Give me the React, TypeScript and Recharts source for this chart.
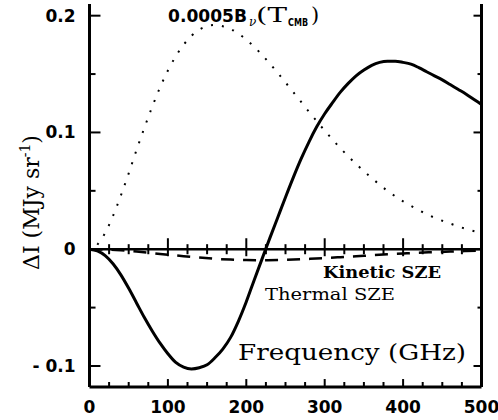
import React from 'react';
import { ComposedChart, Line, XAxis, YAxis, ReferenceLine } from 'recharts';

// thermal SZE (solid)
const THERMAL_FREQ = [
  0, 10, 20, 30, 40, 50, 60, 70, 80, 90, 100, 110, 120, 130, 140, 150, 160, 170, 180, 190, 200,
  210, 220, 230, 240, 250, 260, 270, 280, 290, 300, 310, 320, 330, 340, 350, 360, 370, 380, 390, 400,
  410, 420, 430, 440, 450, 460, 470, 480, 490, 500,
];
const THERMAL = [
  0, -0.0015, -0.0055, -0.0125, -0.022, -0.0335, -0.046, -0.0585, -0.07, -0.0805, -0.0895, -0.097,
  -0.101, -0.1025, -0.1015, -0.099, -0.093, -0.0855, -0.0755, -0.0615, -0.045, -0.0265, -0.0085,
  0.0095, 0.027, 0.0445, 0.0615, 0.0775, 0.092, 0.105, 0.116, 0.1255, 0.1345, 0.142, 0.1485, 0.1535,
  0.1575, 0.16, 0.161, 0.161, 0.16, 0.1585, 0.1555, 0.152, 0.1485, 0.145, 0.141, 0.137, 0.133, 0.1285,
  0.124,
];

// 0.0005 B_nu(T_CMB) (dotted)
const CMB_FREQ = [
  10, 20, 30, 40, 50, 60, 70, 80, 90, 100, 110, 120, 130, 140, 150, 160, 170, 180, 190, 200,
  220, 240, 260, 280, 300, 320, 340, 360, 380, 400, 420, 440, 460, 480, 500,
];
const CMB = [
  0.0038, 0.014, 0.0286, 0.046, 0.065, 0.085, 0.104, 0.122, 0.1386, 0.153, 0.1652, 0.175, 0.1827, 0.188,
  0.191, 0.192, 0.191, 0.1886, 0.1846, 0.1795, 0.1665, 0.151, 0.1345, 0.1177, 0.1016, 0.0865, 0.073,
  0.061, 0.05, 0.041, 0.0335, 0.027, 0.022, 0.0174, 0.0138,
];

// kinetic SZE (dashed)
const KIN_FREQ = [
  0, 20, 40, 60, 80, 100, 120, 140, 160, 180, 200, 220, 240, 260, 280, 300, 320, 340, 360, 380, 400,
  420, 440, 460, 480, 500,
];
const KINETIC = [
  0, -0.0002, -0.0009, -0.002, -0.0033, -0.0047, -0.006, -0.0072, -0.0082, -0.0089, -0.0093, -0.0094,
  -0.0093, -0.0089, -0.0083, -0.0076, -0.0068, -0.006, -0.0052, -0.0044, -0.0037, -0.003, -0.0025,
  -0.002, -0.0016, -0.0013,
];

const X_TICKS = [
  0, 25, 50, 75, 100, 125, 150, 175, 200, 225, 250, 275, 300, 325, 350, 375, 400, 425, 450, 475, 500,
];
const ZERO_TICKS = [25, 50, 75, 100, 125, 150, 175, 200, 225, 250, 275, 300, 325, 350, 375, 400, 425, 450, 475];
const Y_TICKS = [-0.1, -0.05, 0, 0.05, 0.1, 0.15, 0.2];
const Y_LABELS: Record<string, string> = { '-0.1': '- 0.1', '0': '0', '0.1': '0.1', '0.2': '0.2' };

const Y_MIN = -0.118;
const Y_MAX = 0.21;

const thermalRows = THERMAL_FREQ.map((f, i) => ({ f, v: THERMAL[i] }));
const cmbRows = CMB_FREQ.map((f, i) => ({ f, v: CMB[i] }));
const kinRows = KIN_FREQ.map((f, i) => ({ f, v: KINETIC[i] }));

const isMajorY = (v: number) => Math.abs(v * 10 - Math.round(v * 10)) < 1e-6;

// tick marks as short two-point segments in data units
const segs: { f: number; v: number }[][] = [
  ...X_TICKS.map((f) => [
    { f, v: Y_MIN },
    { f, v: Y_MIN + (f % 100 === 0 ? 0.0068 : 0.0043) },
  ]),
  ...ZERO_TICKS.map((f) => [
    { f, v: f % 100 === 0 ? -0.006 : -0.0043 },
    { f, v: f % 100 === 0 ? 0.0094 : 0.0043 },
  ]),
  ...Y_TICKS.map((v) => [
    { f: 0, v },
    { f: isMajorY(v) ? 14 : 7.7, v },
  ]),
  ...Y_TICKS.map((v) => [
    { f: isMajorY(v) ? 489.8 : 494.9, v },
    { f: 500, v },
  ]),
];

const NUM_FONT = { fontFamily: '"DejaVu Sans", sans-serif', fontWeight: 'bold' as const, fontSize: 17 };
const SERIF = '"DejaVu Serif", serif';

const XTick = (props: any) => {
  const x = Number(props.x);
  const y = Number(props.y);
  const v = props.payload.value;
  if (v % 100 !== 0) return <g />;
  return (
    <text x={x} y={y + 26} textAnchor="middle" {...NUM_FONT}>
      {v}
    </text>
  );
};

const LeftTick = (props: any) => {
  const x = Number(props.x);
  const y = Number(props.y);
  const label = Y_LABELS[String(Math.round(props.payload.value * 100) / 100)];
  if (!label) return <g />;
  return (
    <text x={x - 14} y={y + 6} textAnchor="end" {...NUM_FONT}>
      {label}
    </text>
  );
};

export default function App() {
  return (
    <div style={{ position: 'absolute', left: 0, top: 0, width: 498, height: 420 }}>
      <ComposedChart width={498} height={420} margin={{ top: 4, right: 16.5, bottom: 0, left: 0 }}>
        <XAxis
          type="number"
          dataKey="f"
          domain={[0, 500]}
          ticks={X_TICKS}
          interval={0}
          height={33}
          tickSize={0}
          tickMargin={0}
          tickLine={false}
          tick={<XTick />}
          axisLine={{ stroke: '#000', strokeWidth: 3 }}
        />
        <YAxis
          yAxisId="left"
          type="number"
          domain={[Y_MIN, Y_MAX]}
          ticks={Y_TICKS}
          interval={0}
          width={89.5}
          tickSize={0}
          tickMargin={0}
          tickLine={false}
          tick={<LeftTick />}
          axisLine={{ stroke: '#000', strokeWidth: 3 }}
        />
        <ReferenceLine yAxisId="left" y={0} stroke="#000" strokeWidth={2.5} />
        <ReferenceLine yAxisId="left" x={500} stroke="#000" strokeWidth={3} />
        {segs.map((rows, i) => (
          <Line
            key={`tick-${i}`}
            yAxisId="left"
            data={rows}
            dataKey="v"
            type="linear"
            stroke="#000"
            strokeWidth={2}
            dot={false}
            activeDot={false}
            legendType="none"
            isAnimationActive={false}
          />
        ))}
        <Line
          yAxisId="left"
          data={kinRows}
          dataKey="v"
          type="monotone"
          stroke="#000"
          strokeWidth={2.5}
          strokeDasharray="13 9"
          dot={false}
          isAnimationActive={false}
        />
        <Line
          yAxisId="left"
          data={cmbRows}
          dataKey="v"
          type="monotone"
          stroke="#000"
          strokeWidth={2}
          strokeDasharray="2 9"
          dot={false}
          isAnimationActive={false}
        />
        <Line
          yAxisId="left"
          data={thermalRows}
          dataKey="v"
          type="monotone"
          stroke="#000"
          strokeWidth={3}
          dot={false}
          isAnimationActive={false}
        />
      </ComposedChart>
      <svg width={498} height={420} style={{ position: 'absolute', left: 0, top: 0, pointerEvents: 'none' }}>
        <text x={168} y={22} textLength={79} lengthAdjust="spacingAndGlyphs" {...NUM_FONT}>
          0.0005B
        </text>
        <text x={249} y={26} fontFamily={SERIF} fontStyle="italic" fontSize={12}>
          ν
        </text>
        <text x={256} y={22} textLength={31} lengthAdjust="spacingAndGlyphs" fontFamily={SERIF} fontSize={21}>
          (T
        </text>
        <text
          x={288}
          y={26}
          textLength={20}
          lengthAdjust="spacingAndGlyphs"
          fontFamily='"DejaVu Sans", sans-serif'
          fontWeight="bold"
          fontSize={11}
        >
          CMB
        </text>
        <text x={311} y={22} fontFamily={SERIF} fontSize={21}>
          )
        </text>
        <text x={323} y={278} textLength={118} lengthAdjust="spacingAndGlyphs" fontFamily={SERIF} fontWeight="bold" fontSize={17}>
          Kinetic SZE
        </text>
        <text x={265} y={300} textLength={130} lengthAdjust="spacingAndGlyphs" fontFamily={SERIF} fontSize={17}>
          Thermal SZE
        </text>
        <text x={238} y={360} textLength={228} lengthAdjust="spacingAndGlyphs" fontFamily={SERIF} fontSize={22}>
          Frequency (GHz)
        </text>
        <g transform="rotate(-90 39 270)">
          <text x={39} y={270} fontFamily={SERIF} fontSize={22}>
            ΔI (MJy sr
            <tspan fontSize={14} dy={-9}>
              -1
            </tspan>
            <tspan dy={9}>)</tspan>
          </text>
        </g>
      </svg>
    </div>
  );
}
